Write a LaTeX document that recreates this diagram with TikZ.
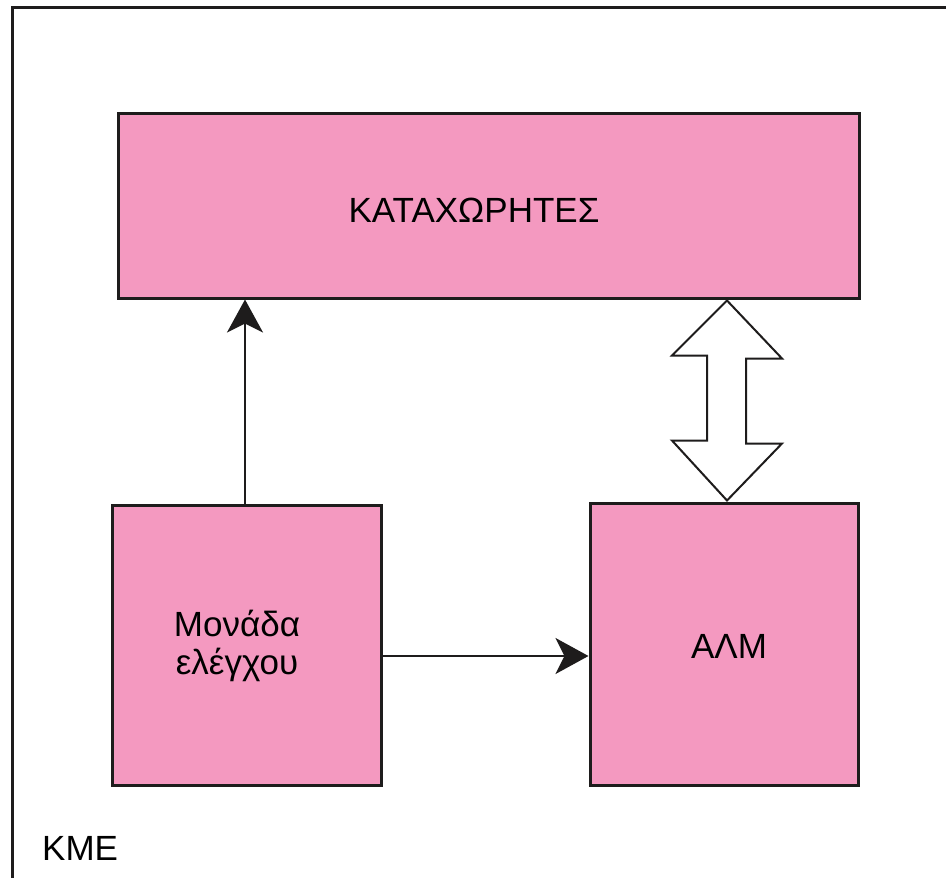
\documentclass[tikz,border=0pt]{standalone}
\usepackage{fontspec}
\setmainfont{Liberation Sans}
\usetikzlibrary{arrows.meta,calc}
\definecolor{boxpink}{RGB}{244,153,192}
\definecolor{linek}{RGB}{30,28,28}
\begin{document}
\begin{tikzpicture}[x=1pt,y=-1pt,
  blk/.style={draw=linek,line width=3pt,fill=boxpink,inner sep=0pt,align=center},
  conn/.style={draw=linek,line width=2pt,-{Stealth[length=33pt,width=36pt,inset=9pt]}},
  lbl/.style={font=\fontsize{35}{38}\selectfont,inner sep=0pt}]
\useasboundingbox (0,0) rectangle (946,878);
\fill[white] (0,0) rectangle (946,878);
% outer frame (only top and left edges visible)
\draw[linek,line width=3pt] (12.5,890) -- (12.5,7.5) -- (960,7.5);
% blocks
\node[blk,minimum width=741pt,minimum height=185pt] (reg) at (488.5,205.5) {};
\node[lbl] (regt) at (474,210) {ΚΑΤΑΧΩΡΗΤΕΣ};
\node[blk,minimum width=269pt,minimum height=280pt] (ctrl) at (246.5,645) {};
\node[lbl,align=center] (ctrlt) at (237,646) {Μονάδα\\ελέγχου};
\node[blk,minimum width=268pt,minimum height=282pt] (alu) at (724,644) {};
\node[lbl] (alut) at (729,646) {ΑΛΜ};
\node[lbl,anchor=base west] (kme) at (42,860) {ΚΜΕ};
% connectors
\coordinate (upx) at (245,0);
\draw[conn] (ctrl.north -| upx) -- (reg.south -| upx);
\coordinate (ry) at (0,656);
\draw[conn] (ctrl.east |- ry) -- (alu.west |- ry);
% double arrow between registers and ALU
\coordinate (dx) at (727,0);
\coordinate (dt) at (reg.south -| dx);
\coordinate (db) at (alu.north -| dx);
\draw[linek,line width=2pt,fill=white,line join=miter]
  ($(dt)+(0,1)$) -- ++(55,58) -- ++(-36,0) -- ++(0,85) -- ++(36,0)
  -- ($(db)+(0,-1)$) -- ++(-55,-60) -- ++(35,0) -- ++(0,-85) -- ++(-35,0) -- cycle;
\end{tikzpicture}
\end{document}
